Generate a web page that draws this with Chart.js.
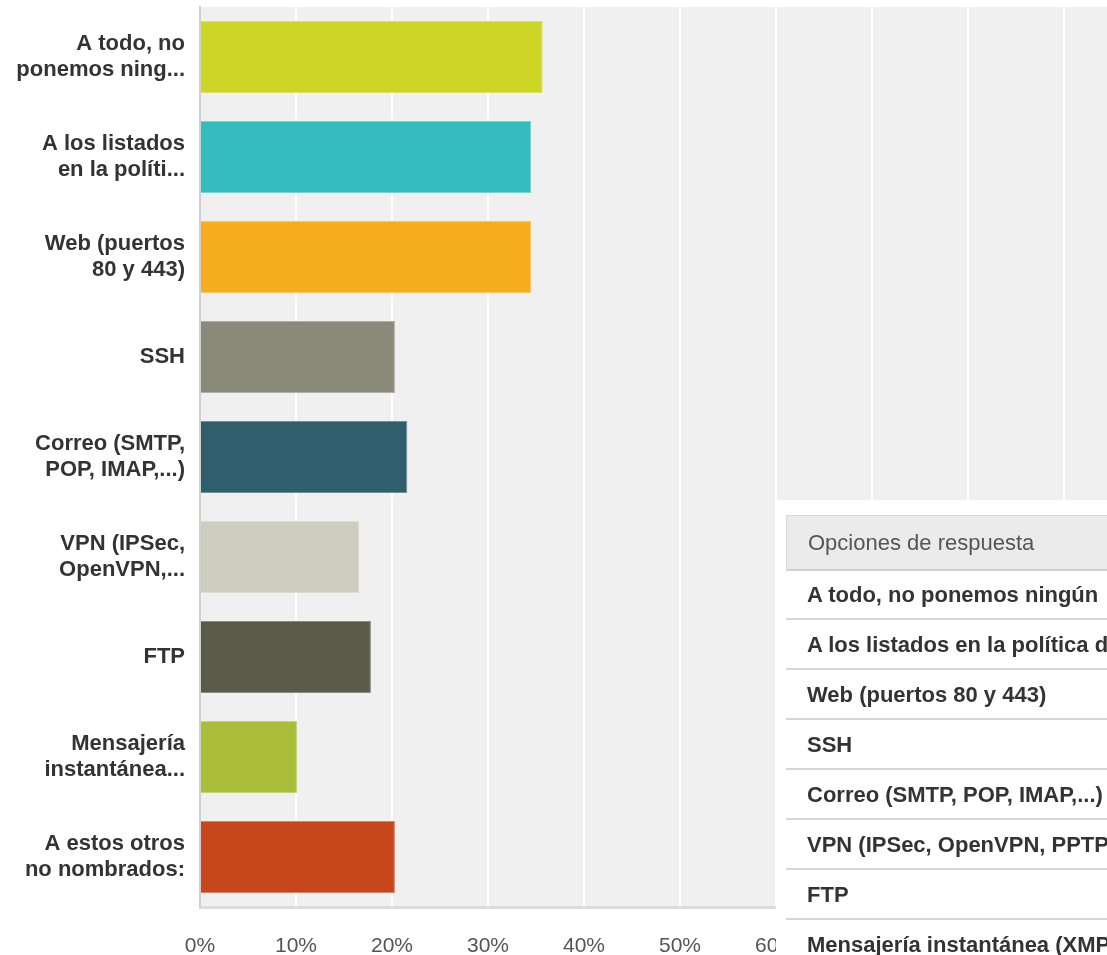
<!DOCTYPE html>
<html>
<head>
<meta charset="utf-8">
<script src="https://cdn.jsdelivr.net/npm/chart.js@4.4.0/dist/chart.umd.min.js"></script>
<style>
  html, body { margin: 0; padding: 0; background: #fff; overflow: hidden; width: 1107px; height: 955px; }
  #wrap { position: absolute; left: 0; top: 0; width: 1200px; height: 955px; }
  #panel { position: absolute; left: 776px; top: 500px; width: 420px; height: 470px; background: #fff; font-family: "Liberation Sans", Arial, sans-serif; }
  #head { position: absolute; left: 10px; top: 15px; width: 420px; height: 53px; background: #ebebeb; border-top: 1px solid #d8d8d8; border-left: 1px solid #d8d8d8; border-bottom: 2px solid #d0d0d0; color: #555; font-size: 22px; line-height: 53px; padding-left: 21px; box-sizing: content-box; white-space: nowrap; }
  .row { position: absolute; left: 10px; width: 440px; height: 48px; border-bottom: 2px solid #d6d6d6; color: #333; font-weight: bold; font-size: 22px; line-height: 50px; padding-left: 21px; white-space: nowrap; }
</style>
</head>
<body>
<div id="wrap"><canvas id="c" width="1200" height="955"></canvas></div>
<div id="panel"><div id="head">Opciones de respuesta</div></div>
<script>
const categories = [
  ["A todo, no", "ponemos ning..."],
  ["A los listados", "en la políti..."],
  ["Web (puertos", "80 y 443)"],
  ["SSH"],
  ["Correo (SMTP,", "POP, IMAP,...)"],
  ["VPN (IPSec,", "OpenVPN,..."],
  ["FTP"],
  ["Mensajería", "instantánea..."],
  ["A estos otros", "no nombrados:"]
];
const values = [35.7, 34.5, 34.5, 20.3, 21.6, 16.6, 17.8, 10.1, 20.3];
const tableRows = [
  "A todo, no ponemos ningún",
  "A los listados en la política de seguridad",
  "Web (puertos 80 y 443)",
  "SSH",
  "Correo (SMTP, POP, IMAP,...)",
  "VPN (IPSec, OpenVPN, PPTP,...)",
  "FTP",
  "Mensajería instantánea (XMPP,...)"
];
const tickValues = [0, 10, 20, 30, 40, 50, 60, 70, 80, 90, 100];

const barColors = ["#cdd627", "#33bdbf", "#f6ae1f", "#898a79", "#2f5f6d", "#cfcdc0", "#5c5a4b", "#a9bd38", "#c8461b"];
const barBorders = ["#dbe26a", "#78d3d4", "#f9c868", "#aeaea2", "#6f9098", "#dddcd3", "#8d8b80", "#c4d27a", "#d98462"];

const panel = document.getElementById('panel');
tableRows.forEach((t, i) => {
  const d = document.createElement('div');
  d.className = 'row';
  d.style.top = (70 + i * 50) + 'px';
  d.textContent = t;
  panel.appendChild(d);
});

const plotBg = {
  id: 'plotBg',
  beforeDraw(chart) {
    const a = chart.chartArea, ctx = chart.ctx;
    ctx.save();
    ctx.fillStyle = '#f0f0f0';
    ctx.fillRect(a.left, a.top, a.right - a.left, a.bottom - a.top);
    ctx.restore();
  }
};

new Chart(document.getElementById('c'), {
  type: 'bar',
  data: {
    labels: categories,
    datasets: [{
      data: values,
      backgroundColor: barColors,
      borderColor: barBorders,
      borderWidth: 1,
      barPercentage: 0.72,
      categoryPercentage: 1.0
    }]
  },
  options: {
    indexAxis: 'y',
    responsive: false,
    animation: false,
    layout: { padding: { top: 7, right: 40, left: 0, bottom: 0 } },
    plugins: { legend: { display: false }, tooltip: { enabled: false } },
    scales: {
      x: {
        min: 0, max: 100,
        afterBuildTicks(scale) { scale.ticks = tickValues.map(v => ({ value: v })); },
        afterFit(scale) { scale.height = 48; scale.paddingLeft = 0; scale.paddingRight = 0; },
        ticks: {
          autoSkip: false, maxRotation: 0,
          padding: 27,
          color: '#555',
          font: { family: '"Liberation Sans", Arial, sans-serif', size: 21 },
          callback: v => v + '%'
        },
        grid: {
          drawTicks: false,
          color: ctx => ctx.index === 0 ? '#d0d0d0' : '#ffffff',
          lineWidth: 2
        },
        border: { display: true, color: '#dcdcdc', width: 3 }
      },
      y: {
        afterFit(scale) { scale.width = 200; scale.paddingTop = 0; scale.paddingBottom = 0; },
        ticks: {
          padding: 15,
          color: '#333',
          font: { family: '"Liberation Sans", Arial, sans-serif', size: 22, weight: 'bold', lineHeight: 1.18 }
        },
        grid: { display: false, drawTicks: false },
        border: { display: true, color: '#d0d0d0', width: 2 }
      }
    }
  },
  plugins: [plotBg]
});
</script>
</body>
</html>
